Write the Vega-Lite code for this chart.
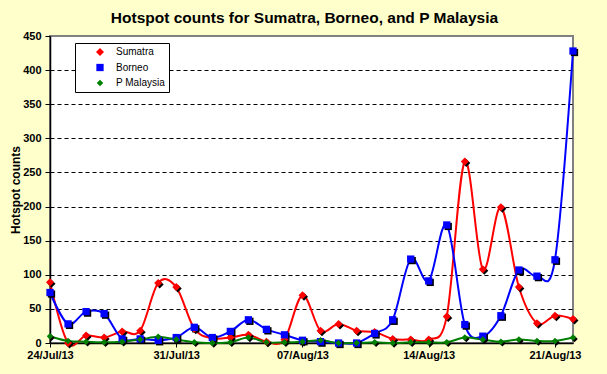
{
  "$schema": "https://vega.github.io/schema/vega-lite/v6.json",
  "width": 523,
  "height": 307,
  "autosize": {"type": "none"},
  "padding": {"left": 50, "top": 36, "right": 34, "bottom": 31},
  "background": "#FFFFCC",
  "config": {
    "font": "Liberation Sans",
    "view": {"fill": "white", "stroke": "#808080", "strokeWidth": 2}
  },
  "title": {
    "text": "Hotspot counts for Sumatra, Borneo, and P Malaysia",
    "fontSize": 15.5,
    "fontWeight": "bold",
    "color": "black",
    "anchor": "middle",
    "offset": 4,
    "dx": -7
  },
  "data": {
    "values": [
      {"date": "2013/07/24", "Sumatra": 89, "Borneo": 74, "P Malaysia": 10},
      {"date": "2013/07/25", "Sumatra": 0, "Borneo": 28, "P Malaysia": 3},
      {"date": "2013/07/26", "Sumatra": 11, "Borneo": 46, "P Malaysia": 2},
      {"date": "2013/07/27", "Sumatra": 8, "Borneo": 43, "P Malaysia": 1},
      {"date": "2013/07/28", "Sumatra": 17, "Borneo": 6, "P Malaysia": 2},
      {"date": "2013/07/29", "Sumatra": 18, "Borneo": 6, "P Malaysia": 5},
      {"date": "2013/07/30", "Sumatra": 88, "Borneo": 4, "P Malaysia": 9},
      {"date": "2013/07/31", "Sumatra": 82, "Borneo": 8, "P Malaysia": 5},
      {"date": "2013/08/01", "Sumatra": 21, "Borneo": 23, "P Malaysia": 1},
      {"date": "2013/08/02", "Sumatra": 7, "Borneo": 8, "P Malaysia": 0},
      {"date": "2013/08/03", "Sumatra": 8, "Borneo": 17, "P Malaysia": 1},
      {"date": "2013/08/04", "Sumatra": 12, "Borneo": 34, "P Malaysia": 8},
      {"date": "2013/08/05", "Sumatra": 2, "Borneo": 20, "P Malaysia": 1},
      {"date": "2013/08/06", "Sumatra": 5, "Borneo": 12, "P Malaysia": 1},
      {"date": "2013/08/07", "Sumatra": 70, "Borneo": 4, "P Malaysia": 2},
      {"date": "2013/08/08", "Sumatra": 18, "Borneo": 2, "P Malaysia": 4},
      {"date": "2013/08/09", "Sumatra": 28, "Borneo": 0, "P Malaysia": 0},
      {"date": "2013/08/10", "Sumatra": 18, "Borneo": 0, "P Malaysia": 0},
      {"date": "2013/08/11", "Sumatra": 16, "Borneo": 14, "P Malaysia": 1},
      {"date": "2013/08/12", "Sumatra": 6, "Borneo": 34, "P Malaysia": 0},
      {"date": "2013/08/13", "Sumatra": 5, "Borneo": 123, "P Malaysia": 1},
      {"date": "2013/08/14", "Sumatra": 5, "Borneo": 91, "P Malaysia": 1},
      {"date": "2013/08/15", "Sumatra": 39, "Borneo": 173, "P Malaysia": 1},
      {"date": "2013/08/16", "Sumatra": 266, "Borneo": 27, "P Malaysia": 8},
      {"date": "2013/08/17", "Sumatra": 108, "Borneo": 10, "P Malaysia": 5},
      {"date": "2013/08/18", "Sumatra": 199, "Borneo": 40, "P Malaysia": 2},
      {"date": "2013/08/19", "Sumatra": 82, "Borneo": 107, "P Malaysia": 5},
      {"date": "2013/08/20", "Sumatra": 29, "Borneo": 98, "P Malaysia": 3},
      {"date": "2013/08/21", "Sumatra": 40, "Borneo": 122, "P Malaysia": 3},
      {"date": "2013/08/22", "Sumatra": 35, "Borneo": 428, "P Malaysia": 8}
    ]
  },
  "encoding": {
    "x": {
      "field": "date",
      "type": "temporal",
      "scale": {
        "domain": [{"year": 2013, "month": 7, "date": 24}, {"year": 2013, "month": 8, "date": 22}],
        "nice": false
      },
      "axis": {
        "title": null,
        "grid": false,
        "values": [
          {"year": 2013, "month": 7, "date": 24},
          {"year": 2013, "month": 7, "date": 31},
          {"year": 2013, "month": 8, "date": 7},
          {"year": 2013, "month": 8, "date": 14},
          {"year": 2013, "month": 8, "date": 21}
        ],
        "format": "%d/%b/%y",
        "labelFontSize": 11,
        "labelFontWeight": "bold",
        "labelColor": "black",
        "labelPadding": 2,
        "labelOverlap": false,
        "labelFlush": false,
        "tickSize": 4,
        "tickColor": "black",
        "domainColor": "black",
        "domainWidth": 1.5
      }
    },
    "y": {
      "field": "count",
      "type": "quantitative",
      "scale": {"domain": [0, 450], "nice": false},
      "axis": {
        "title": "Hotspot counts",
        "titleFontSize": 12,
        "titleFontWeight": "bold",
        "titleColor": "black",
        "titlePadding": 0,
        "values": [0, 50, 100, 150, 200, 250, 300, 350, 400, 450],
        "labelFontSize": 11,
        "labelFontWeight": "bold",
        "labelColor": "black",
        "labelPadding": 4,
        "tickSize": 5,
        "tickColor": "black",
        "domainColor": "black",
        "domainWidth": 1.5,
        "grid": true,
        "gridColor": "black",
        "gridDash": [4, 3],
        "gridWidth": 1,
        "gridOpacity": {"condition": {"test": "datum.value >= 450 || datum.value <= 0", "value": 0}, "value": 1}
      }
    }
  },
  "layer": [
    {
      "transform": [{"fold": ["Sumatra", "Borneo", "P Malaysia"], "as": ["series", "count"]}],
      "mark": {"type": "line", "interpolate": "cardinal", "strokeWidth": 2},
      "encoding": {
        "color": {
          "field": "series",
          "type": "nominal",
          "scale": {"domain": ["Sumatra", "Borneo", "P Malaysia"], "range": ["#FF0000", "#0000FF", "#008000"]},
          "legend": {
            "orient": "none",
            "legendX": 25,
            "legendY": 7,
            "title": null,
            "fillColor": "white",
            "strokeColor": "black",
            "cornerRadius": 0,
            "padding": 4,
            "labelFontSize": 10,
            "labelColor": "black",
            "symbolSize": 100,
            "symbolType": "M-2.6,-0.2L2.6,-0.2L2.6,0.2L-2.6,0.2ZM0,-0.8L0.8,0L0,0.8L-0.8,0Z",
            "symbolOffset": 16,
            "labelOffset": 11,
            "rowPadding": 5.5,
            "symbolStrokeWidth": 0,
            "encode": {
              "symbols": {
                "update": {
                  "shape": {"signal": "datum.value === 'Borneo' ? 'M-2.6,-0.2L2.6,-0.2L2.6,0.2L-2.6,0.2ZM-0.6,-0.6L0.6,-0.6L0.6,0.6L-0.6,0.6Z' : (datum.value === 'Sumatra' ? 'M-2.6,-0.2L2.6,-0.2L2.6,0.2L-2.6,0.2ZM0,-0.8L0.8,0L0,0.8L-0.8,0Z' : 'M-2.6,-0.2L2.6,-0.2L2.6,0.2L-2.6,0.2ZM0,-0.6L0.6,0L0,0.6L-0.6,0Z')"},
                  "fill": {"signal": "datum.value === 'Sumatra' ? '#FF0000' : (datum.value === 'Borneo' ? '#0000FF' : '#008000')"},
                  "opacity": {"value": 1}
                }
              }
            }
          }
        }
      }
    },
    {
      "transform": [{"fold": ["Sumatra", "Borneo", "P Malaysia"], "as": ["grp", "count"]}],
      "mark": {"type": "point", "filled": true, "color": "black", "opacity": 1, "xOffset": 1.5, "yOffset": 1.5},
      "encoding": {
        "shape": {
          "field": "grp",
          "type": "nominal",
          "scale": {"domain": ["Sumatra", "Borneo", "P Malaysia"], "range": ["diamond", "square", "diamond"]},
          "legend": null
        },
        "size": {
          "field": "grp",
          "type": "ordinal",
          "scale": {"domain": ["Sumatra", "Borneo", "P Malaysia"], "range": [64, 42, 40]},
          "legend": null
        }
      }
    },
    {
      "transform": [{"fold": ["Sumatra", "Borneo", "P Malaysia"], "as": ["grp", "count"]}],
      "mark": {"type": "point", "filled": true, "opacity": 1},
      "encoding": {
        "fill": {
          "field": "grp",
          "type": "nominal",
          "scale": {"domain": ["Sumatra", "Borneo", "P Malaysia"], "range": ["#FF0000", "#0000FF", "#008000"]},
          "legend": null
        },
        "shape": {
          "field": "grp",
          "type": "nominal",
          "scale": {"domain": ["Sumatra", "Borneo", "P Malaysia"], "range": ["diamond", "square", "diamond"]},
          "legend": null
        },
        "size": {
          "field": "grp",
          "type": "ordinal",
          "scale": {"domain": ["Sumatra", "Borneo", "P Malaysia"], "range": [64, 42, 40]},
          "legend": null
        }
      }
    }
  ]
}
